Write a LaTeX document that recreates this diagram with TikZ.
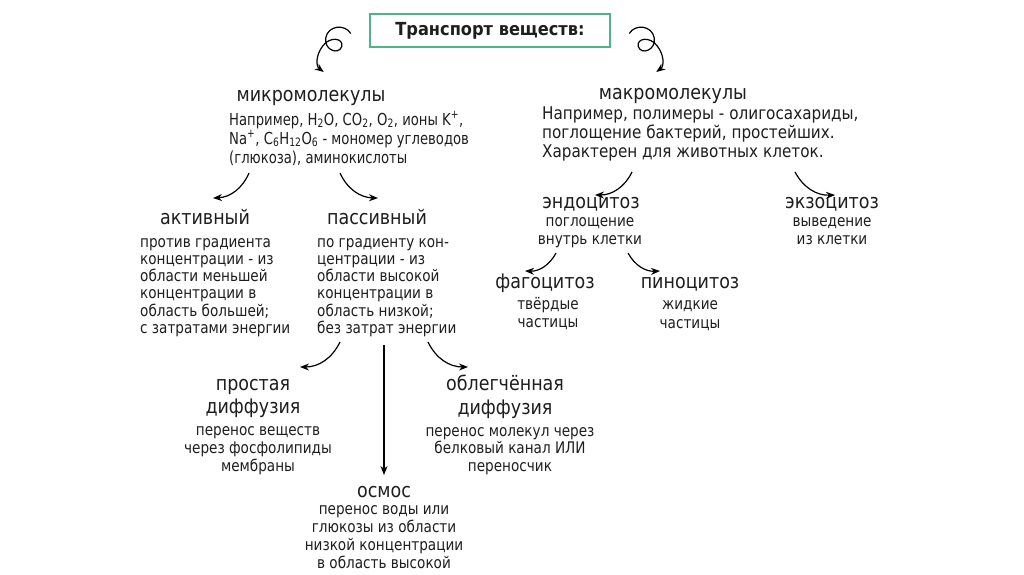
\documentclass[tikz,border=0pt]{standalone}
\usepackage{fontspec}
\setmainfont{DejaVu Sans}
\newfontfamily\bodyf{DejaVu Sans}[FakeStretch=0.85]
\newfontfamily\microf{DejaVu Sans}[FakeStretch=0.8]
\newfontfamily\macrof{DejaVu Sans}[FakeStretch=0.87]
\newfontfamily\headf{DejaVu Sans}[FakeStretch=0.875]
\newfontfamily\titlef{DejaVu Sans}[FakeStretch=0.9]
\usetikzlibrary{arrows.meta,calc}
\definecolor{boxgreen}{HTML}{4DB487}
\definecolor{txt}{HTML}{1E1E1E}
\begin{document}
\begin{tikzpicture}[x=1pt,y=-1pt,
  head/.style={font=\headf\fontsize{20}{23}\selectfont, text=txt, inner sep=0pt, anchor=base},
  body/.style={font=\bodyf\fontsize{16}{18.5}\selectfont, text=txt, inner sep=0pt, anchor=base},
  arr/.style={-{Stealth[length=9pt,width=7pt]}, line width=1.2pt, black},
]
\useasboundingbox[fill=white] (0,0) rectangle (1024,574);

% title
\node[draw=boxgreen, line width=2.5pt, minimum width=240pt, minimum height=33pt, inner sep=0pt,
      font=\titlef\bfseries\fontsize{18}{20}\selectfont, text=txt] (title) at (490,30.5) {Транспорт веществ:};

% curly arrows
\draw[arr, shift={(title.west)}] (-18,3) .. controls (-24,-7) and (-41,-5) .. (-43,7.5)
  .. controls (-45,19.5) and (-30,25) .. (-27,16)
  .. controls (-25,7.5) and (-39,5.5) .. (-46,15.5)
  .. controls (-53,24.5) and (-53,35.5) .. (-45,41.5);
\draw[arr, shift={(title.east)}, xscale=-1] (-18,3) .. controls (-24,-7) and (-41,-5) .. (-43,7.5)
  .. controls (-45,19.5) and (-30,25) .. (-27,16)
  .. controls (-25,7.5) and (-39,5.5) .. (-46,15.5)
  .. controls (-53,24.5) and (-53,35.5) .. (-45,41.5);

% micro
\node[head] (microhead) at (311,101) {микромолекулы};
\node[body, align=left, anchor=base west, font=\microf\fontsize{16.5}{19}\selectfont] (microbody) at (229,163)
  {Например, H\textsubscript{2}O, CO\textsubscript{2}, O\textsubscript{2}, ионы K\textsuperscript{+},\\
   Na\textsuperscript{+}, C\textsubscript{6}H\textsubscript{12}O\textsubscript{6} - мономер углеводов\\
   (глюкоза), аминокислоты};

% macro
\node[head] (macrohead) at (673,99) {макромолекулы};
\node[body, align=left, anchor=base west, font=\macrof\fontsize{17.5}{19}\selectfont] (macrobody) at (542,157)
  {Например, полимеры - олигосахариды,\\
   поглощение бактерий, простейших.\\
   Характерен для животных клеток.};

% active / passive
\node[head] (active) at (205,224) {активный};
\node[body, align=left, anchor=base west, font=\bodyf\fontsize{16}{17.3}\selectfont] (activebody) at (140,333.5)
  {против градиента\\ концентрации - из\\ области меньшей\\ концентрации в\\ область большей;\\ с затратами энергии};
\node[head] (passive) at (377,224) {пассивный};
\node[body, align=left, anchor=base west, font=\bodyf\fontsize{16}{17.3}\selectfont] (passivebody) at (317,333.5)
  {по градиенту кон-\\ центрации - из\\ области высокой\\ концентрации в\\ область низкой;\\ без затрат энергии};

% endo / exo
\node[head] (endo) at (591,208) {эндоцитоз};
\node[body, align=center] (endobody) at (590,244.5) {поглощение\\ внутрь клетки};
\node[head] (exo) at (832,208) {экзоцитоз};
\node[body, align=center] (exobody) at (832,244.5) {выведение\\ из клетки};

% phago / pino
\node[head] (phago) at (545,288) {фагоцитоз};
\node[body, align=center] (phagobody) at (548,327.5) {твёрдые\\ частицы};
\node[head] (pino) at (690,288) {пиноцитоз};
\node[body, align=center] (pinobody) at (690,328) {жидкие\\ частицы};

% diffusion
\node[head] (simple1) at (253,390) {простая};
\node[head] (simple2) at (253,413) {диффузия};
\node[body, align=center, font=\bodyf\fontsize{16}{18}\selectfont] (simplebody) at (258,471)
  {перенос веществ\\ через фосфолипиды\\ мембраны};
\node[head] (facil1) at (505,390) {облегчённая};
\node[head] (facil2) at (505,414) {диффузия};
\node[body, align=center, font=\bodyf\fontsize{16}{17.5}\selectfont] (facilbody) at (510,471)
  {перенос молекул через\\ белковый канал ИЛИ\\ переносчик};
\node[head] (osmos) at (384,497) {осмос};
\node[body, align=center, font=\bodyf\fontsize{16}{17.8}\selectfont] (osmosbody) at (384,568)
  {перенос воды или\\ глюкозы из области\\ низкой концентрации\\ в область высокой};

% arrows
\draw[arr] ($(microhead.base)+(-62,72)$) to[bend left=32] ($(active.base)+(8,-26)$);
\draw[arr] ($(microhead.base)+(29,72)$) to[bend right=32] ($(passive.base)+(1,-26)$);
\draw[arr] ($(macrohead.base)+(-41,73)$) to[bend left=32] ($(endo.base)+(4,-13)$);
\draw[arr] ($(macrohead.base)+(122,73)$) to[bend right=32] ($(exo.base)+(3,-13)$);
\draw[arr] ($(endo.base)+(-35,45)$) to[bend left=32] ($(phago.base)+(-20,-17)$);
\draw[arr] ($(endo.base)+(37,45)$) to[bend right=32] ($(pino.base)+(-30,-17)$);
\draw[arr] ($(passive.base)+(-37,118)$) to[bend left=32] ($(simple1.base)+(47,-23)$);
\draw[arr] ($(passive.base)+(7,121)$) -- ($(osmos.base)+(0,-22)$);
\draw[arr] ($(passive.base)+(51,118)$) to[bend right=32] ($(facil1.base)+(-37,-23)$);
\end{tikzpicture}
\end{document}
